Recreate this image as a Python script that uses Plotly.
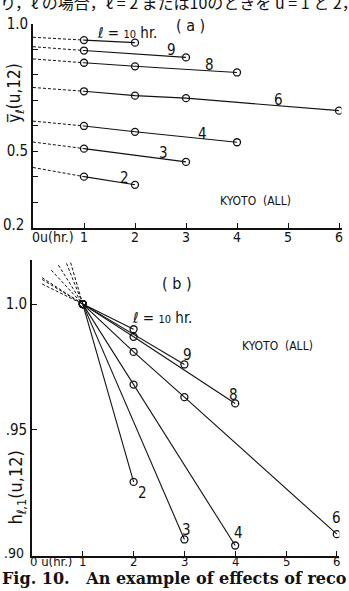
import plotly.graph_objects as go

# ---- panel (a): mean ybar_l(u,12) against u, one series per l ----
a_levels = [10, 9, 8, 6, 4, 3, 2]
a_u = [[1, 2], [1, 3], [1, 2, 4], [1, 2, 3, 6], [1, 2, 4], [1, 3], [1, 2]]
a_y = [
    [0.936, 0.926],
    [0.895, 0.868],
    [0.847, 0.833, 0.809],
    [0.735, 0.718, 0.708, 0.659],
    [0.599, 0.576, 0.535],
    [0.510, 0.458],
    [0.400, 0.368],
]
# value of the dashed extension at u = 0
a_y0 = [0.947, 0.910, 0.862, 0.750, 0.618, 0.536, 0.436]

# ---- panel (b): h_{l,1}(u,12) against u ----
b_u = [[1, 2], [1, 3], [1, 2, 4], [1, 2, 3, 6], [1, 2, 4], [1, 3], [1, 2]]
b_h = [
    [1.0, 0.990],
    [1.0, 0.976],
    [1.0, 0.987, 0.9605],
    [1.0, 0.981, 0.963, 0.9085],
    [1.0, 0.968, 0.904],
    [1.0, 0.9064],
    [1.0, 0.9293],
]
# start of the dashed back-extension (u, h) for each l
b_u0 = [0.20, 0.20, 0.20, 0.38, 0.52, 0.68, 0.76]
b_h0 = [1.008, 1.0098, 1.0105, 1.0135, 1.0155, 1.0162, 1.0165]

x_ticks = [1, 2, 3, 4, 5, 6]
a_ytick_vals = [0.2, 0.3, 0.4, 0.5, 0.6, 0.7, 0.8, 0.9, 1.0]
a_ytick_text = ["", "", "", "0.5", "", "", "", "", "1.0"]
b_ytick_vals = [0.90, 0.95, 1.0]
b_ytick_text = ["", ".95", "1.0"]

W, H = 349, 591
LBL = "Liberation Sans Narrow, DejaVu Sans Condensed, Liberation Sans, sans-serif"
INK = "#111111"


def px_x(p):
    return p / W


def px_y(p):
    return 1 - p / H


fig = go.Figure()

marker = dict(symbol="circle-open", size=7, color=INK, line=dict(width=1.3, color=INK))

for u, y, y0 in zip(a_u, a_y, a_y0):
    fig.add_trace(go.Scatter(x=[0, u[0]], y=[y0, y[0]], mode="lines",
                             line=dict(color=INK, width=1, dash="3px,2px"),
                             xaxis="x", yaxis="y", showlegend=False, hoverinfo="skip"))
    fig.add_trace(go.Scatter(x=u, y=y, mode="lines+markers",
                             line=dict(color=INK, width=1.1), marker=marker,
                             xaxis="x", yaxis="y", showlegend=False))

for u, h, u0, h0 in zip(b_u, b_h, b_u0, b_h0):
    fig.add_trace(go.Scatter(x=[u0, u[0]], y=[h0, h[0]], mode="lines",
                             line=dict(color=INK, width=1, dash="3px,2px"),
                             xaxis="x2", yaxis="y2", showlegend=False, hoverinfo="skip"))
    fig.add_trace(go.Scatter(x=u, y=h, mode="lines+markers",
                             line=dict(color=INK, width=1.1), marker=marker,
                             xaxis="x2", yaxis="y2", showlegend=False))

axis_common = dict(showgrid=False, zeroline=False, showline=True, linecolor=INK,
                   linewidth=1.6, ticks="inside", ticklen=5, tickwidth=1.4,
                   tickcolor=INK, tickfont=dict(family=LBL, size=15, color=INK))

fig.update_layout(
    width=W, height=H,
    margin=dict(l=0, r=0, t=0, b=0),
    paper_bgcolor="white", plot_bgcolor="white",
    xaxis=dict(axis_common, domain=[px_x(33), px_x(33 + 6.05 * 51)], range=[0, 6.05],
               tickvals=x_ticks, showticklabels=False, anchor="y"),
    yaxis=dict(axis_common, domain=[px_y(222), px_y(15)], range=[0.2, 1.0],
               tickvals=a_ytick_vals, ticktext=a_ytick_text, anchor="x"),
    xaxis2=dict(axis_common, domain=[px_x(32), px_x(32 + 6.05 * 50.8)], range=[0, 6.05],
                tickvals=x_ticks, showticklabels=False, anchor="y2"),
    yaxis2=dict(axis_common, domain=[px_y(555), px_y(255)], range=[0.90, 1.0175],
                tickvals=b_ytick_vals, ticktext=b_ytick_text, anchor="x2"),
)

ann = []


def note(text, x, y, xref, yref, size=15, xanchor="center", yanchor="middle",
         family=LBL, angle=0):
    ann.append(dict(text=text, x=x, y=y, xref=xref, yref=yref, showarrow=False,
                    xanchor=xanchor, yanchor=yanchor, textangle=angle,
                    font=dict(family=family, size=size, color=INK)))


# u tick numbers sit tight under each axis line
for v in x_ticks:
    note(str(v), v, px_y(232), "x", "paper", size=14)
    note(str(v), v, px_y(561), "x2", "paper", size=13)

# panel (a) labels
note("ℓ = <span style='font-size:11px'>10</span> hr.", 1.22, 0.962, "x", "y", size=15, xanchor="left")
note("9", 2.72, 0.896, "x", "y")
note("8", 3.47, 0.838, "x", "y")
note("6", 4.82, 0.699, "x", "y")
note("4", 3.33, 0.568, "x", "y")
note("3", 2.55, 0.494, "x", "y")
note("2", 1.80, 0.394, "x", "y")
note("( a )", 3.08, 0.992, "x", "y", size=16)
note("KYOTO  (ALL)", 4.37, 0.305, "x", "y", size=12)
note("0.2", px_x(1), px_y(219), "paper", "paper", xanchor="left")
note("0u(hr.)", px_x(30), px_y(232), "paper", "paper", size=14, xanchor="left")
note("y\u0305<sub>ℓ</sub>(u,12)", px_x(16), px_y(86), "paper", "paper", size=17, angle=-90)

# panel (b) labels
note("ℓ = <span style='font-size:11px'>10</span> hr.", 1.93, 0.9945, "x2", "y2", xanchor="left")
note("9", 3.07, 0.9796, "x2", "y2")
note("8", 3.96, 0.964, "x2", "y2")
note("6", 6.0, 0.915, "x2", "y2")
note("4", 4.06, 0.909, "x2", "y2")
note("3", 3.05, 0.9102, "x2", "y2")
note("2", 2.17, 0.9247, "x2", "y2")
note("( b )", 2.85, 1.0082, "x2", "y2", size=16)
note("KYOTO  (ALL)", 4.84, 0.9835, "x2", "y2", size=12)
note(".90", px_x(2), px_y(552), "paper", "paper", size=14, xanchor="left")
note("0 u(hr.)", px_x(28), px_y(561), "paper", "paper", size=13, xanchor="left")
note("h<sub>ℓ,1</sub>(u,12)", px_x(17), px_y(486), "paper", "paper", size=18, angle=-90)

# caption and running text of the page
note("<b>Fig. 10.\u00a0\u00a0 An example of effects of reco</b>", px_x(0), px_y(578), "paper", "paper",
     size=16, xanchor="left", family="DejaVu Serif, Liberation Serif, serif")
note("り，ℓ の場合，ℓ = 2 または10のときを u = 1 と 2，", px_x(-2), px_y(-7), "paper", "paper",
     size=16, xanchor="left", family="Noto Sans CJK JP, sans-serif")

fig.update_layout(annotations=ann)

fig.write_html("out.html")
